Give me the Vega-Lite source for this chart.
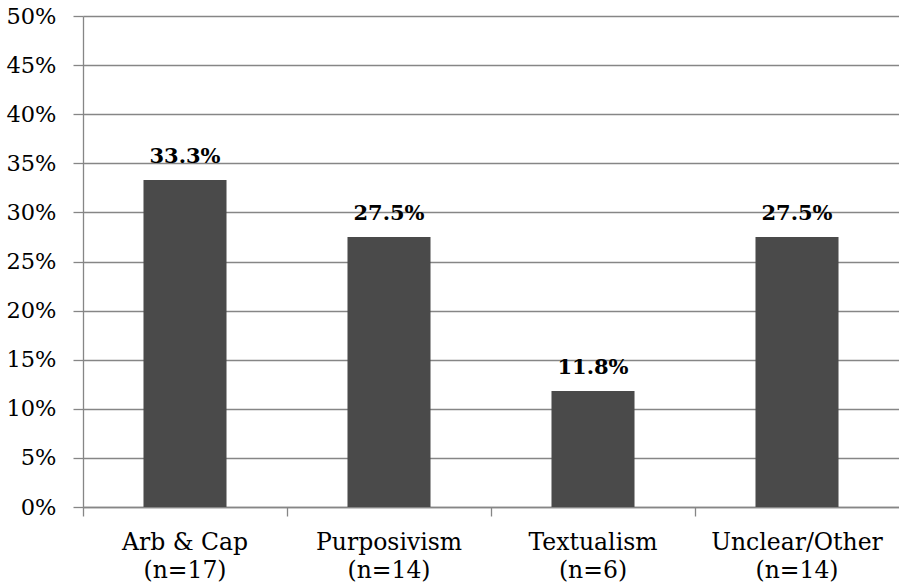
{
  "$schema": "https://vega.github.io/schema/vega-lite/v6.json",
  "width": 816,
  "height": 491,
  "autosize": "none",
  "padding": {"left": 83, "top": 16, "right": 0, "bottom": 80},
  "background": "white",
  "config": {
    "view": {"stroke": null},
    "font": "DejaVu Serif"
  },
  "data": {
    "values": [
      {"category": "Arb & Cap (n=17)", "pct": 0.333},
      {"category": "Purposivism (n=14)", "pct": 0.275},
      {"category": "Textualism (n=6)", "pct": 0.118},
      {"category": "Unclear/Other (n=14)", "pct": 0.275}
    ]
  },
  "encoding": {
    "x": {
      "field": "category",
      "type": "nominal",
      "sort": null,
      "scale": {"paddingInner": 0, "paddingOuter": 0},
      "axis": {
        "title": null,
        "labelAngle": 0,
        "labelExpr": "[slice(datum.label, 0, indexof(datum.label, ' (')), slice(datum.label, indexof(datum.label, ' (') + 1)]",
        "labelFont": "DejaVu Serif",
        "labelFontSize": 23.5,
        "labelColor": "#000000",
        "labelLineHeight": 28,
        "labelPadding": 14,
        "bandPosition": 0,
        "tickSize": 9,
        "tickColor": "#868686",
        "domainColor": "#868686",
        "domainWidth": 1.3,
        "tickWidth": 1.3,
        "grid": false
      }
    },
    "y": {
      "field": "pct",
      "type": "quantitative",
      "scale": {"domain": [0, 0.5], "nice": false},
      "axis": {
        "title": null,
        "values": [0, 0.05, 0.1, 0.15, 0.2, 0.25, 0.3, 0.35, 0.4, 0.45, 0.5],
        "format": ".0%",
        "labelFont": "DejaVu Serif",
        "labelFontSize": 22.5,
        "labelColor": "#000000",
        "labelPadding": 17,
        "tickSize": 10,
        "tickColor": "#868686",
        "tickWidth": 1.3,
        "domainColor": "#868686",
        "domainWidth": 1.3,
        "grid": true,
        "gridColor": "#868686",
        "gridWidth": 1.3
      }
    }
  },
  "layer": [
    {
      "mark": {"type": "bar", "color": "#4a4a4a", "width": {"band": 0.407}}
    },
    {
      "mark": {"type": "text", "baseline": "alphabetic", "dy": -17, "font": "DejaVu Serif", "fontWeight": "bold", "fontSize": 21, "color": "#000000"},
      "encoding": {
        "text": {"field": "pct", "type": "quantitative", "format": ".1%"}
      }
    }
  ]
}
